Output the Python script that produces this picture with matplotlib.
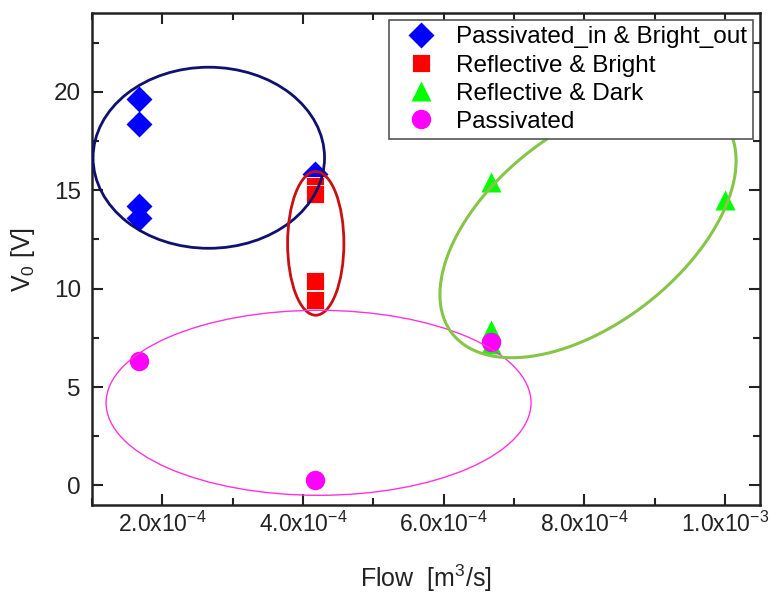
import numpy as np
import matplotlib
matplotlib.use('Agg')
import matplotlib.pyplot as plt
from matplotlib.patches import Ellipse
from matplotlib.ticker import MultipleLocator, FuncFormatter

plt.rcParams['font.family'] = ['Liberation Sans', 'DejaVu Sans']
plt.rcParams['mathtext.fontset'] = 'custom'
plt.rcParams['mathtext.rm'] = 'Liberation Sans'
plt.rcParams['mathtext.default'] = 'regular'

# data
flow_pb = [1.67e-4, 1.67e-4, 1.67e-4, 1.67e-4, 4.17e-4]
v0_pb = [19.65, 18.35, 14.2, 13.6, 15.8]

flow_rb = [4.17e-4, 4.17e-4, 4.17e-4, 4.17e-4]
v0_rb = [15.2, 14.8, 10.4, 9.4]

flow_rd = [6.67e-4, 6.67e-4, 6.67e-4, 1.0e-3]
v0_rd = [15.4, 7.9, 7.2, 14.5]

flow_p = [1.67e-4, 4.17e-4, 6.67e-4]
v0_p = [6.3, 0.3, 7.3]

# group outlines: (center x, center y, width, height)
ell_navy = (2.66e-4, 16.65, 3.29e-4, 9.2)
ell_red = (4.18e-4, 12.3, 0.80e-4, 7.3)
ell_pink = (4.22e-4, 4.2, 6.04e-4, 9.4)
# tilted green outline: center and two conjugate half-axis vectors
ell_green_c = (8.05e-4, 13.1)
ell_green_u = (1.93e-4, 5.38)
ell_green_v = (-0.84e-4, 3.84)

fig = plt.figure(figsize=(7.7, 5.95), dpi=100)
ax = fig.add_axes([0.1195, 0.151, 0.868, 0.827])

ax.plot(flow_pb, v0_pb, 'D', color='#0000FF', ms=13, mec='none',
        label='Passivated_in & Bright_out', zorder=3)
ax.plot(flow_rb, v0_rb, 's', color='#FF0000', ms=12.5, mec='white', mew=0.6,
        label='Reflective & Bright', zorder=3)
ax.plot(flow_rd, v0_rd, '^', color='#00FF00', ms=15, mec='none',
        label='Reflective & Dark', zorder=3)
ax.plot(flow_p, v0_p, 'o', color='#FF00FF', ms=14, mec='none',
        label='Passivated', zorder=4)

for (cx, cy, w, h), col, lw in [(ell_navy, '#101070', 2.0),
                                (ell_red, '#C81010', 2.0),
                                (ell_pink, '#FF33DD', 1.0)]:
    ax.add_patch(Ellipse((cx, cy), w, h, fill=False, edgecolor=col,
                         linewidth=lw, zorder=5))

t = np.linspace(0, 2 * np.pi, 400)
gx = ell_green_c[0] + ell_green_u[0] * np.cos(t) + ell_green_v[0] * np.sin(t)
gy = ell_green_c[1] + ell_green_u[1] * np.cos(t) + ell_green_v[1] * np.sin(t)
ax.plot(gx, gy, color='#86C547', lw=2.2, zorder=5)

ax.set_xlim(1.0e-4, 1.05e-3)
ax.set_ylim(-1, 24)
ax.xaxis.set_major_locator(MultipleLocator(2e-4))
ax.xaxis.set_minor_locator(MultipleLocator(1e-4))
ax.yaxis.set_major_locator(MultipleLocator(5))
ax.yaxis.set_minor_locator(MultipleLocator(2.5))


def sci(v, pos):
    m, e = f'{v:.1e}'.split('e')
    return f'{m}x10$^{{{int(e)}}}$'


ax.xaxis.set_major_formatter(FuncFormatter(sci))
ax.tick_params(which='both', direction='in', top=True, right=True,
               labeltop=False, labelright=False, width=1.5,
               colors='#222222')
ax.tick_params(axis='x', which='major', pad=5, labelsize=16.5)
ax.tick_params(axis='y', which='major', pad=8, labelsize=17.5)
ax.tick_params(which='major', length=8)
ax.tick_params(which='minor', length=5)
for s in ax.spines.values():
    s.set_linewidth(1.8)
    s.set_color('#222222')

ax.set_xlabel(r'Flow  [m$^3$/s]', fontsize=18, labelpad=18, color='#222222')
ax.set_ylabel(r'V$_0$ [V]', fontsize=18, labelpad=12, color='#222222')

leg = ax.legend(loc='upper right', fontsize=17.5, fancybox=False,
                edgecolor='#555555', framealpha=1, borderaxespad=0.3,
                handletextpad=0.4, labelspacing=0.25, borderpad=0.25,
                handlelength=2.1)
leg.get_frame().set_linewidth(1.2)

fig.savefig('out.png', dpi=100)
